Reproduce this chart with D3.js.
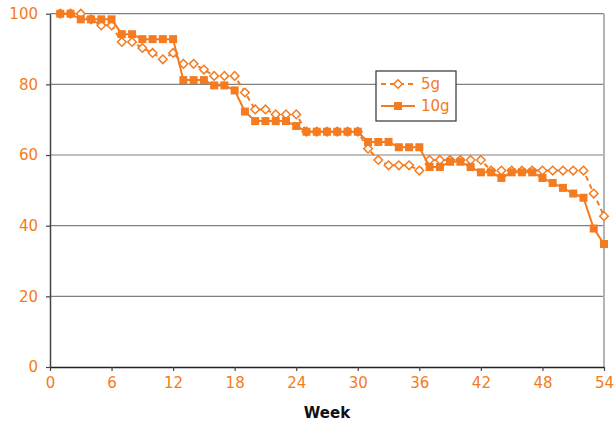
<!DOCTYPE html>
<html>
<head>
<meta charset="utf-8">
<script src="https://cdn.jsdelivr.net/npm/d3@7"></script>
<style>
  html, body { margin: 0; padding: 0; background: #fff; }
  svg { display: block; }
</style>
</head>
<body>
<div id="chart"></div>
<script>
// Weekly percentages for the two dose groups
const weeks = [1,2,3,4,5,6,7,8,9,10,11,12,13,14,15,16,17,18,19,20,21,22,23,24,25,26,27,
               28,29,30,31,32,33,34,35,36,37,38,39,40,41,42,43,44,45,46,47,48,49,50,51,52,53,54];

const series5g = [100,100,100,98.4,96.7,96.7,92.0,92.0,90.3,88.9,87.1,88.9,85.8,85.8,84.2,82.4,82.4,82.4,
                  77.7,72.9,72.9,71.5,71.5,71.5,66.6,66.6,66.6,66.6,66.6,66.6,61.8,58.6,57.1,57.1,57.1,55.6,
                  58.6,58.6,58.6,58.6,58.6,58.6,55.6,55.6,55.6,55.6,55.6,55.6,55.6,55.6,55.6,55.6,49.1,42.7];

const series10g = [100,100,98.4,98.4,98.4,98.4,94.2,94.2,92.8,92.8,92.8,92.8,81.2,81.2,81.2,79.7,79.7,78.3,
                   72.3,69.6,69.6,69.6,69.6,68.2,66.6,66.6,66.6,66.6,66.6,66.6,63.7,63.7,63.7,62.2,62.2,62.2,
                   56.6,56.6,58.1,58.1,56.6,55.1,55.1,53.5,55.1,55.1,55.1,53.5,52.1,50.7,49.1,47.9,39.2,34.8];

const xTicks = [0,6,12,18,24,30,36,42,48,54];
const yTicks = [0,20,40,60,80,100];
const seriesNames = ["5g", "10g"];
const xTitle = "Week";

const W = 614, H = 426;
const orange = "#f47b20";
const font = "'DejaVu Sans', Verdana, sans-serif";

const svg = d3.select("#chart").append("svg")
  .attr("width", W).attr("height", H)
  .style("font-family", font);

const x = d3.scaleLinear().domain([0, 54]).range([50, 604]);
const y = d3.scaleLinear().domain([0, 100]).range([367, 13.7]);

// horizontal gridlines
svg.append("g").selectAll("line")
  .data(yTicks.filter(d => d > 0))
  .join("line")
  .attr("x1", x(0)).attr("x2", x(54))
  .attr("y1", d => y(d)).attr("y2", d => y(d))
  .attr("stroke", "#808080").attr("stroke-width", 1.2);

// right plot border
svg.append("line")
  .attr("x1", x(54)).attr("x2", x(54))
  .attr("y1", y(100)).attr("y2", y(0))
  .attr("stroke", "#b4b4b4").attr("stroke-width", 2);

// y axis
const yAxis = svg.append("g")
  .attr("transform", `translate(${x(0)},0)`)
  .call(d3.axisLeft(y).tickValues(yTicks).tickSize(4).tickSizeOuter(0).tickPadding(8));
yAxis.select(".domain").attr("stroke", "#444").attr("stroke-width", 1.5);
yAxis.selectAll(".tick line").attr("stroke", "#444").attr("stroke-width", 1.2);
yAxis.selectAll("text").attr("fill", orange).style("font-size", "15px").style("font-family", font);

// x axis
const xAxis = svg.append("g")
  .attr("transform", `translate(0,${y(0)})`)
  .call(d3.axisBottom(x).tickValues(xTicks).tickSize(4).tickSizeOuter(0).tickPadding(6));
xAxis.select(".domain").attr("stroke", "#222").attr("stroke-width", 1.5);
xAxis.selectAll(".tick line").attr("stroke", "#444").attr("stroke-width", 1.2);
xAxis.selectAll("text").attr("fill", orange).style("font-size", "15px").style("font-family", font);

svg.append("text")
  .attr("x", (x(0) + x(54)) / 2).attr("y", 418)
  .attr("text-anchor", "middle")
  .style("font-size", "15px").style("font-weight", "bold")
  .attr("fill", "#111")
  .text(xTitle);

const line = d3.line().x(d => x(d[0])).y(d => y(d[1]));
const pts5 = weeks.map((w, i) => [w, series5g[i]]);
const pts10 = weeks.map((w, i) => [w, series10g[i]]);

const diamond = s => `M0,${-s}L${s},0L0,${s}L${-s},0Z`;

// 5g: dashed line, hollow diamonds
svg.append("path").datum(pts5)
  .attr("d", line).attr("fill", "none")
  .attr("stroke", orange).attr("stroke-width", 2).attr("stroke-dasharray", "5,4");
svg.append("g").selectAll("path").data(pts5).join("path")
  .attr("transform", d => `translate(${x(d[0])},${y(d[1])})`)
  .attr("d", diamond(4.3))
  .attr("fill", "#fff").attr("stroke", orange).attr("stroke-width", 1.5);

// 10g: solid line, filled squares
svg.append("path").datum(pts10)
  .attr("d", line).attr("fill", "none")
  .attr("stroke", orange).attr("stroke-width", 2);
svg.append("g").selectAll("rect").data(pts10).join("rect")
  .attr("x", d => x(d[0]) - 4).attr("y", d => y(d[1]) - 4)
  .attr("width", 8).attr("height", 8)
  .attr("fill", orange);

// legend
const lg = svg.append("g");
lg.append("rect").attr("x", 376).attr("y", 71).attr("width", 80).attr("height", 50)
  .attr("fill", "#fff").attr("stroke", "#333").attr("stroke-width", 1.2);
const rows = [{name: seriesNames[0], yy: 84, dash: "5,4"}, {name: seriesNames[1], yy: 106, dash: null}];
rows.forEach((r, i) => {
  lg.append("line").attr("x1", 381).attr("x2", 415).attr("y1", r.yy).attr("y2", r.yy)
    .attr("stroke", orange).attr("stroke-width", 2)
    .attr("stroke-dasharray", r.dash);
  if (i === 0) {
    lg.append("path").attr("transform", `translate(398,${r.yy})`).attr("d", diamond(4.3))
      .attr("fill", "#fff").attr("stroke", orange).attr("stroke-width", 1.5);
  } else {
    lg.append("rect").attr("x", 394).attr("y", r.yy - 4).attr("width", 8).attr("height", 8)
      .attr("fill", orange);
  }
  lg.append("text").attr("x", 421).attr("y", r.yy).attr("dy", "0.36em")
    .attr("fill", orange).style("font-size", "15px").text(r.name);
});
</script>
</body>
</html>
